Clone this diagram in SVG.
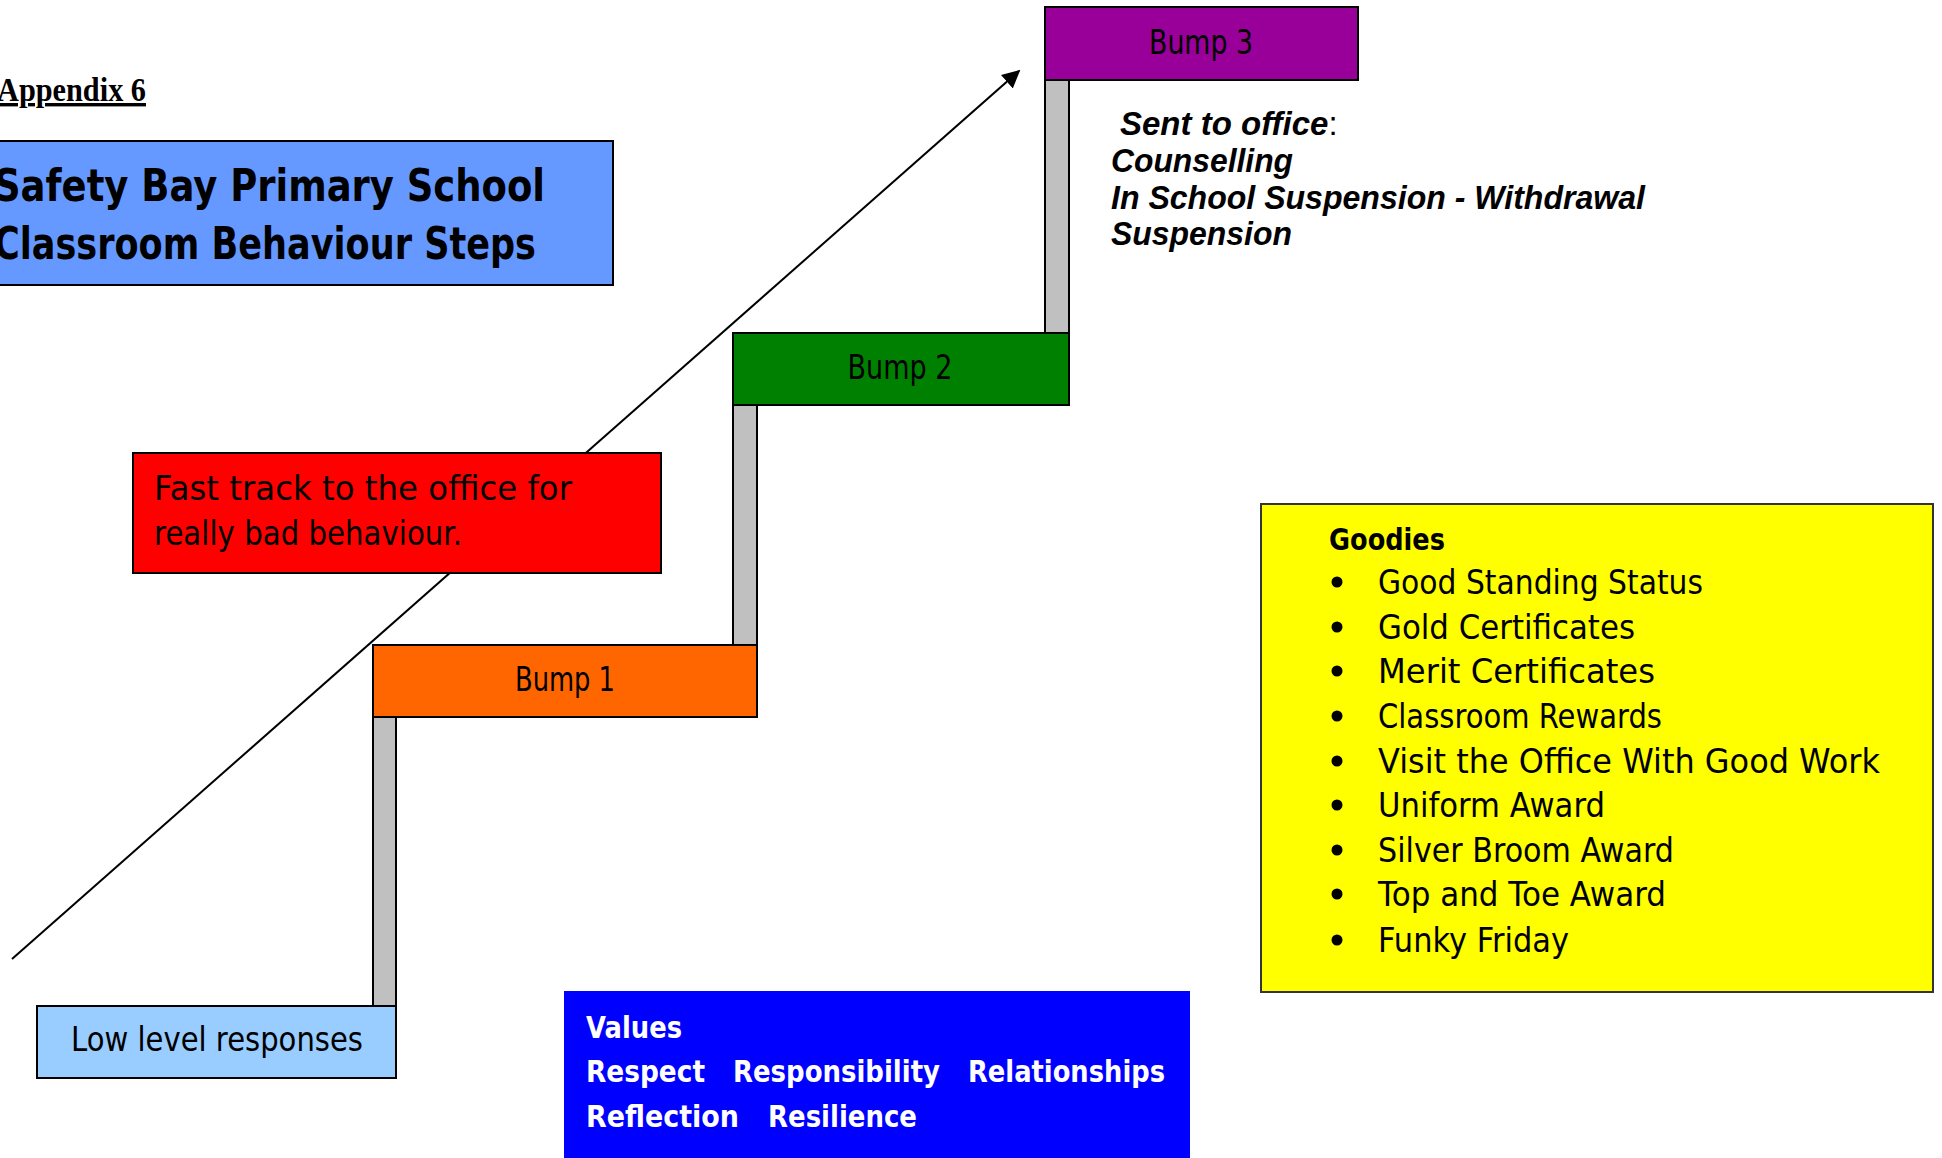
<svg xmlns="http://www.w3.org/2000/svg" width="1942" height="1158" viewBox="0 0 1942 1158">
  <defs>
    <marker id="arrowhead" viewBox="0 0 10 10" refX="9" refY="5" markerWidth="9" markerHeight="9" markerUnits="strokeWidth" orient="auto">
      <path d="M0,0 L10,5 L0,10 z" fill="#000"/>
    </marker>
    <style>
      .box { stroke: #000; stroke-width: 2; }
      .post { fill: #c0c0c0; stroke: #000; stroke-width: 2; }
      .comic { font-family: "DejaVu Sans", "Noto Sans", sans-serif; fill: #000; }
      .bold { font-weight: bold; }
      .step { font-size: 34px; text-anchor: middle; }
      .list { font-size: 33px; }
      .helv { font-family: "Liberation Sans", Arial, sans-serif; font-size: 33px; font-weight: bold; font-style: italic; fill: #000; }
      .white { fill: #fff; }
    </style>
  </defs>
  <rect width="1942" height="1158" fill="#fff"/>

  <g id="connectors">
    <line x1="12" y1="959" x2="1019" y2="71" stroke="#000" stroke-width="2" marker-end="url(#arrowhead)"/>
  </g>

  <g id="appendix">
    <text x="-3" y="101" font-family="Liberation Serif, Times New Roman, serif" font-size="34" font-weight="bold" textLength="149" lengthAdjust="spacingAndGlyphs" text-decoration="underline">Appendix 6</text>
  </g>

  <g id="title">
    <rect class="box" x="-10" y="141" width="623" height="144" fill="#6699ff"/>
    <text class="comic bold" x="-6" y="201" font-size="44" textLength="551" lengthAdjust="spacingAndGlyphs">Safety Bay Primary School</text>
    <text class="comic bold" x="-6" y="259" font-size="44" textLength="542" lengthAdjust="spacingAndGlyphs">Classroom Behaviour Steps</text>
  </g>

  <g id="post-3"><rect class="post" x="1045" y="79" width="24" height="254"/></g>
  <g id="post-2"><rect class="post" x="733" y="405" width="24" height="240"/></g>
  <g id="post-1"><rect class="post" x="373" y="717" width="23" height="289"/></g>

  <g id="bump-3">
    <rect class="box" x="1045" y="7" width="313" height="73" fill="#990099"/>
    <text class="comic step" x="1201" y="54" textLength="104" lengthAdjust="spacingAndGlyphs">Bump 3</text>
  </g>

  <g id="bump-2">
    <rect class="box" x="733" y="333" width="336" height="72" fill="#008000"/>
    <text class="comic step" x="900" y="379" textLength="105" lengthAdjust="spacingAndGlyphs">Bump 2</text>
  </g>

  <g id="bump-1">
    <rect class="box" x="373" y="645" width="384" height="72" fill="#ff6600"/>
    <text class="comic step" x="565" y="691" textLength="100" lengthAdjust="spacingAndGlyphs">Bump 1</text>
  </g>

  <g id="low-level">
    <rect class="box" x="37" y="1006" width="359" height="72" fill="#99ccff"/>
    <text class="comic step" x="217" y="1051" textLength="292" lengthAdjust="spacingAndGlyphs">Low level responses</text>
  </g>

  <g id="fast-track">
    <rect class="box" x="133" y="453" width="528" height="120" fill="#ff0000"/>
    <text class="comic list" x="154" y="500" textLength="418" lengthAdjust="spacingAndGlyphs">Fast track to the office for</text>
    <text class="comic list" x="154" y="545" textLength="308" lengthAdjust="spacingAndGlyphs">really bad behaviour.</text>
  </g>

  <g id="office-consequences">
    <text class="helv" x="1120" y="135"><tspan>Sent to office</tspan><tspan font-weight="normal" font-style="normal">:</tspan></text>
    <text class="helv" x="1111" y="172" textLength="182" lengthAdjust="spacingAndGlyphs">Counselling</text>
    <text class="helv" x="1111" y="209" textLength="534" lengthAdjust="spacingAndGlyphs">In School Suspension - Withdrawal</text>
    <text class="helv" x="1111" y="245" textLength="181" lengthAdjust="spacingAndGlyphs">Suspension</text>
  </g>

  <g id="goodies">
    <rect x="1261" y="504" width="672" height="488" fill="#ffff00" stroke="#333" stroke-width="2"/>
    <text class="comic bold" x="1329" y="550" font-size="31" textLength="116" lengthAdjust="spacingAndGlyphs">Goodies</text>
    <g fill="#000">
      <circle cx="1337" cy="582" r="5.5"/>
      <circle cx="1337" cy="627" r="5.5"/>
      <circle cx="1337" cy="671" r="5.5"/>
      <circle cx="1337" cy="716" r="5.5"/>
      <circle cx="1337" cy="761" r="5.5"/>
      <circle cx="1337" cy="805" r="5.5"/>
      <circle cx="1337" cy="850" r="5.5"/>
      <circle cx="1337" cy="894" r="5.5"/>
      <circle cx="1337" cy="940" r="5.5"/>
    </g>
    <text class="comic list" x="1378" y="594" textLength="325" lengthAdjust="spacingAndGlyphs">Good Standing Status</text>
    <text class="comic list" x="1378" y="639" textLength="257" lengthAdjust="spacingAndGlyphs">Gold Certificates</text>
    <text class="comic list" x="1378" y="683" textLength="277" lengthAdjust="spacingAndGlyphs">Merit Certificates</text>
    <text class="comic list" x="1378" y="728" textLength="284" lengthAdjust="spacingAndGlyphs">Classroom Rewards</text>
    <text class="comic list" x="1378" y="773" textLength="502" lengthAdjust="spacingAndGlyphs">Visit the Office With Good Work</text>
    <text class="comic list" x="1378" y="817" textLength="227" lengthAdjust="spacingAndGlyphs">Uniform Award</text>
    <text class="comic list" x="1378" y="862" textLength="296" lengthAdjust="spacingAndGlyphs">Silver Broom Award</text>
    <text class="comic list" x="1378" y="906" textLength="288" lengthAdjust="spacingAndGlyphs">Top and Toe Award</text>
    <text class="comic list" x="1378" y="952" textLength="191" lengthAdjust="spacingAndGlyphs">Funky Friday</text>
  </g>

  <g id="values">
    <rect x="564" y="991" width="626" height="180" fill="#0000ff"/>
    <text class="comic bold white" x="586" y="1038" font-size="31" textLength="96" lengthAdjust="spacingAndGlyphs">Values</text>
    <text class="comic bold white" x="586" y="1082" font-size="31" textLength="119" lengthAdjust="spacingAndGlyphs">Respect</text>
    <text class="comic bold white" x="733" y="1082" font-size="31" textLength="207" lengthAdjust="spacingAndGlyphs">Responsibility</text>
    <text class="comic bold white" x="968" y="1082" font-size="31" textLength="197" lengthAdjust="spacingAndGlyphs">Relationships</text>
    <text class="comic bold white" x="586" y="1127" font-size="31" textLength="153" lengthAdjust="spacingAndGlyphs">Reflection</text>
    <text class="comic bold white" x="768" y="1127" font-size="31" textLength="149" lengthAdjust="spacingAndGlyphs">Resilience</text>
  </g>
</svg>
